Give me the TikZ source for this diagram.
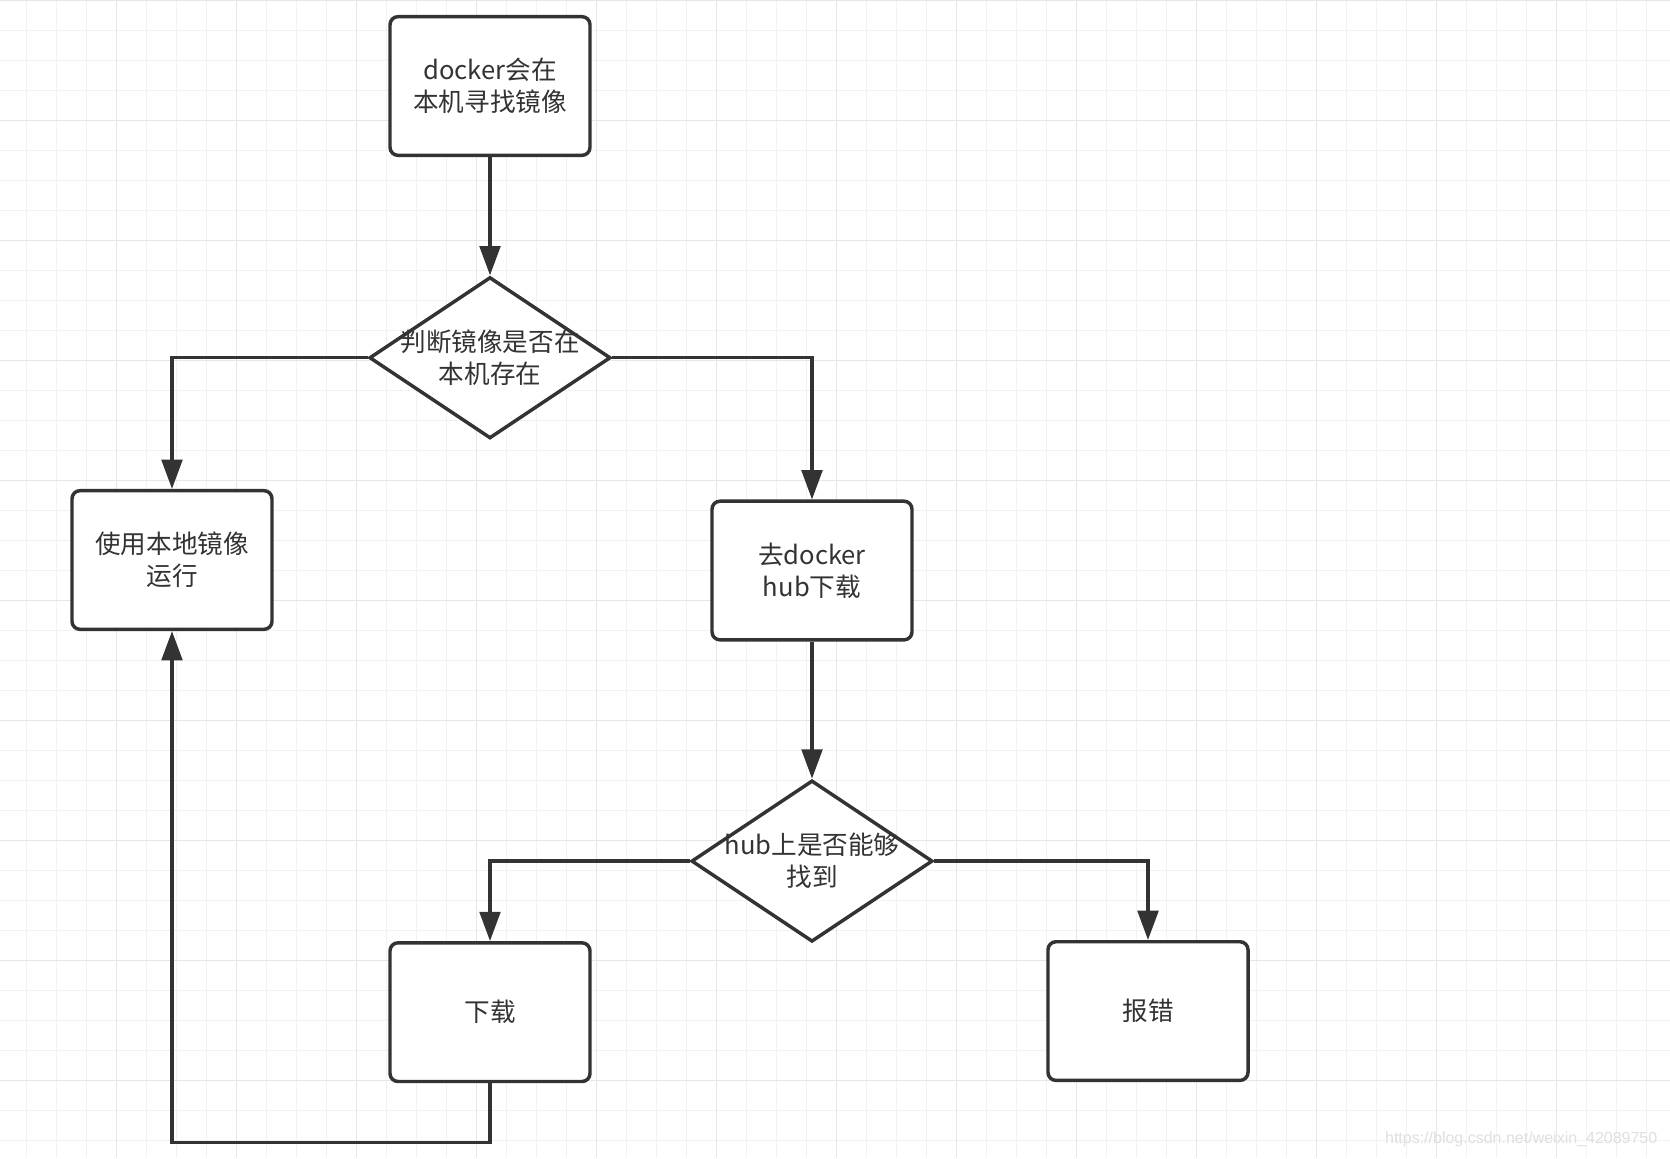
\documentclass[tikz,border=0pt]{standalone}
\usepackage{fontspec}
\setmainfont{Noto Sans CJK SC}
\newfontfamily\markfont{Liberation Sans}
\usetikzlibrary{shapes, arrows.meta, positioning}
\definecolor{linegray}{HTML}{333333}
\definecolor{gridminor}{HTML}{F2F2F2}
\definecolor{gridmajor}{HTML}{E6E6E6}

\begin{document}
\begin{tikzpicture}[
			x=0.75pt, y=-0.75pt,
			on grid,
			box/.style={rectangle, draw=linegray, line width=2.6pt, rounded corners=6pt, minimum width=150pt, minimum height=104pt, align=center, fill=white, text=linegray, font=\fontsize{19.2pt}{24pt}\selectfont},
			decision/.style={diamond, draw=linegray, line width=2.6pt, minimum width=181pt, minimum height=121pt, inner sep=0pt, fill=white},
			dtext/.style={align=center, text=linegray, font=\fontsize{19.2pt}{24pt}\selectfont},
			arrow/.style={->, >={Triangle[width=15.5pt, length=22pt]}, line width=2.5pt, draw=linegray}
			]
			
			% Background grid
			\useasboundingbox (0,0) rectangle (1670,1158);
			\fill[white] (0,0) rectangle (1670,1158);
			\foreach \x in {26.7,56.7,...,1670} \draw[gridminor, line width=0.9pt] (\x,0) -- (\x,1158);
			\foreach \y in {0.7,30.7,...,1158} \draw[gridminor, line width=0.9pt] (0,\y) -- (1670,\y);
			\foreach \x in {116.7,236.7,...,1670} \draw[gridmajor, line width=1.1pt] (\x,0) -- (\x,1158);
			\foreach \y in {0.7,120.7,...,1158} \draw[gridmajor, line width=1.1pt] (0,\y) -- (1670,\y);
			
			% Main flow
			\node[box] (search) at (490,86) {docker会在\\本机寻找镜像};
			\node[decision, below=203.8pt of search, label={[dtext]center:判断镜像是否在\\本机存在}] (check) {};
			
			% Two branches
			\node[box, below left=151.7pt and 238.5pt of check] (local) {使用本地镜像\\运行};
			\node[box, below right=159.6pt and 241.5pt of check] (hub) {去docker\\hub下载};
			\node[decision, below=217.9pt of hub, label={[dtext]center:hub上是否能够\\找到}] (found) {};
			
			% Results of the hub lookup
			\node[box, below left=113.3pt and 241.5pt of found] (pull) {下载};
			\node[box, below right=112.5pt and 252pt of found] (fail) {报错};
			\coordinate[below=44.5pt of pull.south] (loop);
			
			% Arrows
			\draw[arrow] (search) -- (check);
			\draw[arrow] (check.west) -| (local.north);
			\draw[arrow] (check.east) -| (hub.north);
			\draw[arrow] (hub) -- (found);
			\draw[arrow] (found.west) -| (pull.north);
			\draw[arrow] (found.east) -| (fail.north);
			\draw[arrow] (pull.south) -- (loop) -| (local.south);
			
			% Watermark
			\node[anchor=east, text=gray!25, font=\markfont\fontsize{12pt}{14pt}\selectfont] (mark) at (1662,1139) {https://blog.csdn.net/weixin\_42089750};
			
		\end{tikzpicture}
\end{document}
